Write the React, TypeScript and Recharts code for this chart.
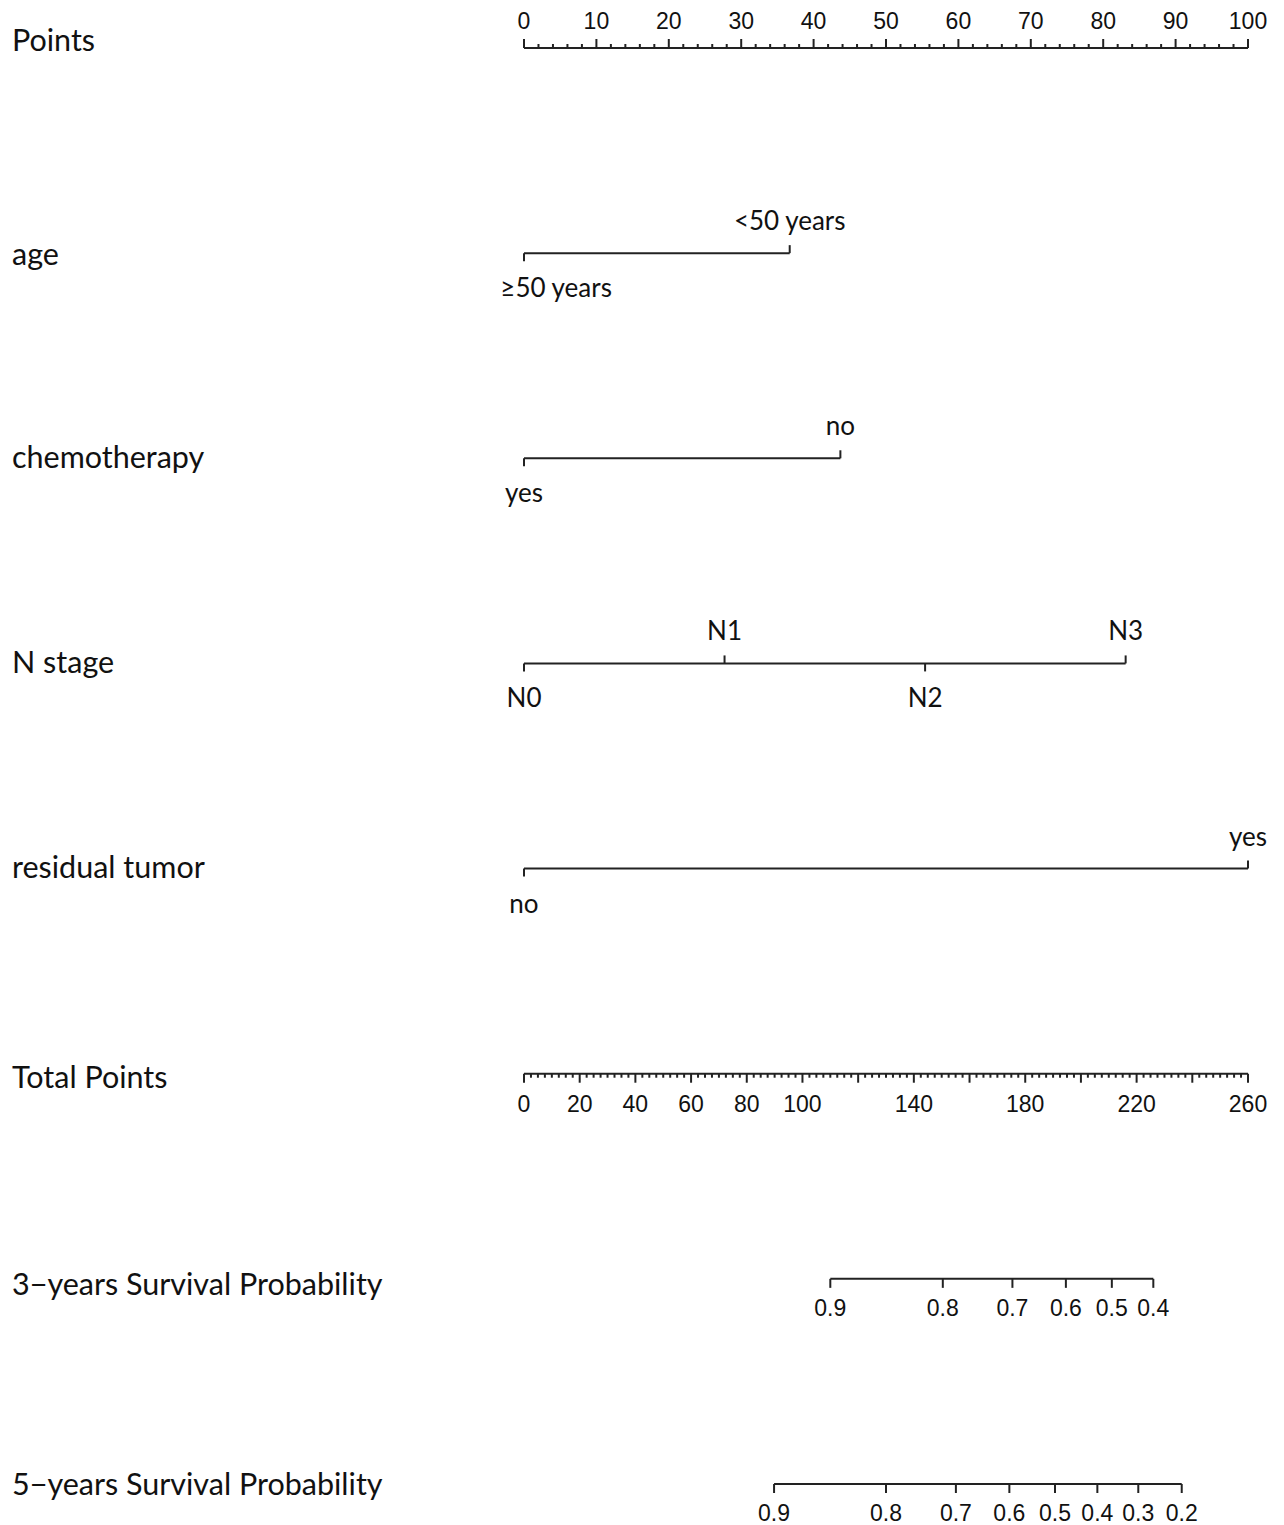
import React from "react";
import { ComposedChart, Scatter, XAxis, YAxis } from "recharts";

// row names, top to bottom
const ROW_NAMES = [
  "Points",
  "age",
  "chemotherapy",
  "N stage",
  "residual tumor",
  "Total Points",
  "3\u2212years Survival Probability",
  "5\u2212years Survival Probability",
];

// predictor levels and their points (0-100 scale)
const AGE_LEVELS = ["\u226550 years", "<50 years"];
const AGE_POINTS = [0, 36.7];
const CHEMO_LEVELS = ["yes", "no"];
const CHEMO_POINTS = [0, 43.7];
const N_LEVELS = ["N0", "N1", "N2", "N3"];
const N_POINTS = [0, 27.7, 55.4, 83.1];
const RESID_LEVELS = ["no", "yes"];
const RESID_POINTS = [0, 100];

// axis tick labels
const POINTS_LABELS = [0, 10, 20, 30, 40, 50, 60, 70, 80, 90, 100];
const TOTAL_LABELS = [0, 20, 40, 60, 80, 100, 140, 180, 220, 260];

// survival probabilities, placed on the total points scale
const SURV3_LABELS = ["0.9", "0.8", "0.7", "0.6", "0.5", "0.4"];
const SURV3_TOTAL = [110, 150.4, 175.4, 194.6, 211.1, 226.0];
const SURV5_LABELS = ["0.9", "0.8", "0.7", "0.6", "0.5", "0.4", "0.3", "0.2"];
const SURV5_TOTAL = [89.8, 130.0, 155.1, 174.3, 190.7, 205.9, 220.6, 236.2];

const INK = "#222";
const TEXT_FONT = "Lato, 'Open Sans', sans-serif";
const NUM_FONT = "'Liberation Sans', Arial, sans-serif";
const ROW_SIZE = 30.5;
const LEVEL_SIZE = 26;
const NUM_SIZE = 23;
const ROW_LABEL_DY = [-9, 0, -2, -2, -3, 2, 4, -1];

let ctx: CanvasRenderingContext2D | null = null;
function textWidth(s: string, font: string) {
  if (!ctx) ctx = document.createElement("canvas").getContext("2d");
  if (!ctx) return s.length * 12;
  ctx.font = font;
  return ctx.measureText(s).width;
}

const levelRow = (row: number, labels: string[], pts: number[]) =>
  labels.map((label, i) => ({ x: pts[i], y: row, label, i }));

const ageData = levelRow(1, AGE_LEVELS, AGE_POINTS);
const chemoData = levelRow(2, CHEMO_LEVELS, CHEMO_POINTS);
const nData = levelRow(3, N_LEVELS, N_POINTS);
const residData = levelRow(4, RESID_LEVELS, RESID_POINTS);

const pointsAxis: any[] = [];
for (let v = 0; v <= 100; v += 2) pointsAxis.push({ x: v, y: 0, major: v % 10 === 0 });
const totalAxis: any[] = [];
for (let v = 0; v <= 260; v += 2.5) totalAxis.push({ x: v, y: 5, major: v % 20 === 0 });

const surv3 = SURV3_LABELS.map((label, i) => ({ x: SURV3_TOTAL[i], y: 6, label }));
const surv5 = SURV5_LABELS.map((label, i) => ({ x: SURV5_TOTAL[i], y: 7, label }));

const PLOT_LEFT = 524;

function LevelTick(props: any) {
  const { cx, cy, payload } = props;
  const above = payload.i % 2 === 1;
  const font = `${LEVEL_SIZE}px ${TEXT_FONT}`;
  const w = textWidth(payload.label, font);
  let tx = cx;
  if (tx - w / 2 < PLOT_LEFT - 24) tx = PLOT_LEFT - 24 + w / 2;
  return (
    <g>
      <line x1={cx} x2={cx} y1={cy} y2={above ? cy - 8 : cy + 8} stroke={INK} strokeWidth={2} />
      <text
        x={tx}
        y={above ? cy - 23 : cy + 44}
        textAnchor="middle"
        fontFamily={TEXT_FONT}
        fontSize={LEVEL_SIZE}
        fill="#111"
      >
        {payload.label}
      </text>
    </g>
  );
}

function PointsTick(props: any) {
  const { cx, cy, payload } = props;
  const len = payload.major ? 9 : 4;
  return (
    <g>
      <line x1={cx} x2={cx} y1={cy} y2={cy - len} stroke={INK} strokeWidth={2} />
      {POINTS_LABELS.includes(payload.x) && (
        <text x={cx} y={cy - 19} textAnchor="middle" fontFamily={NUM_FONT} fontSize={NUM_SIZE} fill="#111">
          {payload.x}
        </text>
      )}
    </g>
  );
}

function TotalTick(props: any) {
  const { cx, cy, payload } = props;
  const len = payload.major ? 9 : 4;
  return (
    <g>
      <line x1={cx} x2={cx} y1={cy} y2={cy + len} stroke={INK} strokeWidth={2} />
      {TOTAL_LABELS.includes(payload.x) && (
        <text x={cx} y={cy + 38} textAnchor="middle" fontFamily={NUM_FONT} fontSize={NUM_SIZE} fill="#111">
          {payload.x}
        </text>
      )}
    </g>
  );
}

function ProbTick(props: any) {
  const { cx, cy, payload } = props;
  return (
    <g>
      <line x1={cx} x2={cx} y1={cy} y2={cy + 9} stroke={INK} strokeWidth={2} />
      <text x={cx} y={cy + 37} textAnchor="middle" fontFamily={NUM_FONT} fontSize={NUM_SIZE} fill="#111">
        {payload.label}
      </text>
    </g>
  );
}

function RowLabel(props: any) {
  const { y, payload } = props;
  return (
    <text
      x={12}
      y={y + ROW_LABEL_DY[payload.value]}
      dominantBaseline="central"
      fontFamily={TEXT_FONT}
      fontSize={ROW_SIZE}
      fill="#111"
    >
      {ROW_NAMES[payload.value]}
    </text>
  );
}

const lineStyle = { stroke: INK, strokeWidth: 2 };

export default function App() {
  return (
    <div style={{ width: 1284, height: 1525, background: "#fff" }}>
      <style>{"body{margin:0}"}</style>
      <ComposedChart width={1284} height={1525} margin={{ top: 48, right: 36, bottom: 41, left: 0 }}>
        <XAxis xAxisId="pts" type="number" dataKey="x" domain={[0, 100]} hide />
        <XAxis xAxisId="tot" type="number" dataKey="x" domain={[0, 260]} hide />
        <YAxis
          type="number"
          dataKey="y"
          domain={[0, 7]}
          reversed
          ticks={[0, 1, 2, 3, 4, 5, 6, 7]}
          interval={0}
          width={524}
          axisLine={false}
          tickLine={false}
          tick={<RowLabel />}
        />
        <Scatter xAxisId="pts" data={pointsAxis} line={lineStyle} lineType="joint" shape={<PointsTick />} isAnimationActive={false} />
        <Scatter xAxisId="pts" data={ageData} line={lineStyle} lineType="joint" shape={<LevelTick />} isAnimationActive={false} />
        <Scatter xAxisId="pts" data={chemoData} line={lineStyle} lineType="joint" shape={<LevelTick />} isAnimationActive={false} />
        <Scatter xAxisId="pts" data={nData} line={lineStyle} lineType="joint" shape={<LevelTick />} isAnimationActive={false} />
        <Scatter xAxisId="pts" data={residData} line={lineStyle} lineType="joint" shape={<LevelTick />} isAnimationActive={false} />
        <Scatter xAxisId="tot" data={totalAxis} line={lineStyle} lineType="joint" shape={<TotalTick />} isAnimationActive={false} />
        <Scatter xAxisId="tot" data={surv3} line={lineStyle} lineType="joint" shape={<ProbTick />} isAnimationActive={false} />
        <Scatter xAxisId="tot" data={surv5} line={lineStyle} lineType="joint" shape={<ProbTick />} isAnimationActive={false} />
      </ComposedChart>
    </div>
  );
}
